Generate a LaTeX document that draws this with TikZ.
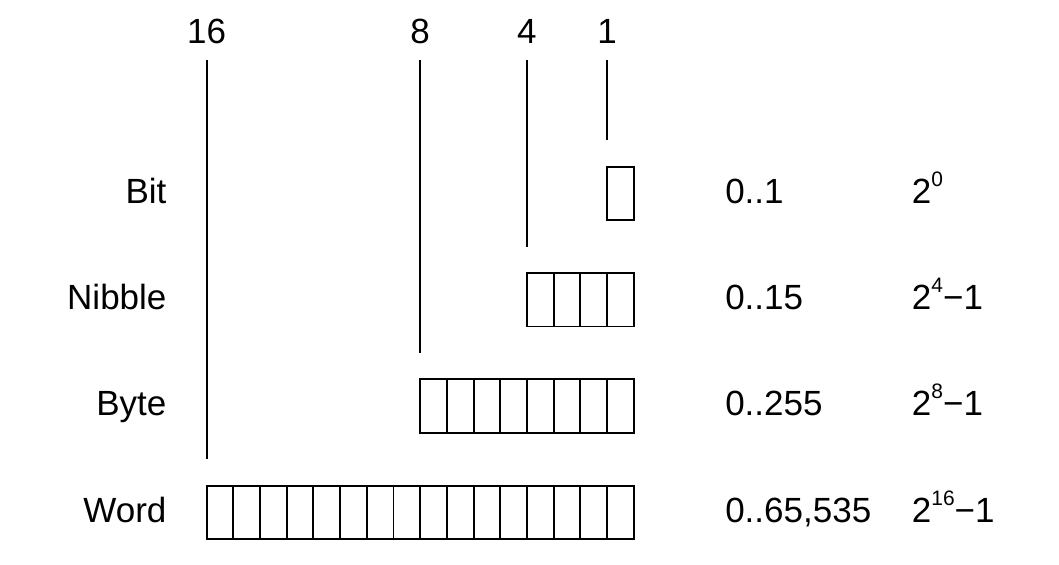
\documentclass[tikz,border=0pt]{standalone}
\usepackage{fontspec}
\setmainfont{Liberation Sans}
\usepackage{tikz}

\newcommand{\powtwo}[1]{2\raisebox{12.75pt}{\fontsize{15.7}{16}\selectfont #1}}

\tikzset{
  cell/.style={draw, line width=1.4pt, minimum width=20pt, minimum height=40.1pt, inner sep=0pt},
  txt/.style={font=\fontsize{26.25}{31}\selectfont, inner sep=0pt},
  tick/.style={line width=1.4pt}
}

\begin{document}
\begin{tikzpicture}[x=0.75pt,y=0.75pt,yscale=-1,xscale=1]
\path[use as bounding box] (0,0) rectangle (1059,564);

\foreach \n/\name/\range/\pow/\top/\bl in {1/Bit/{0..1}/{\powtwo{0}}/166.7/203,
    4/Nibble/{0..15}/{\powtwo{4}−1}/273/309.3,
    8/Byte/{0..255}/{\powtwo{8}−1}/379.3/415.7,
    16/Word/{0..65,535}/{\powtwo{16}−1}/485.7/522}{
  % Text Node
  \node[txt, anchor=base] (num\n) at ({633.7-\n*26.69},43) {\n};
  \coordinate (t\n) at ({633.7-\n*26.69},60);
  % Cells
  \foreach \k in {1,...,\n}
    \node[cell] (c\n-\k) at ({633.7-(\k-0.5)*26.69},{\top+26.75}) {};
  %Straight Lines
  \draw[tick] (t\n) -- ([yshift=-39.9pt]t\n |- c\n-\n.center);
  % Text Node
  \node[txt, anchor=base east] (lbl\n) at (166.7,\bl) {\name};
  \node[txt, anchor=base west] (rng\n) at (725,\bl) {\range};
  \node[txt, anchor=base west] (pow\n) at (911.7,\bl) {\pow};
}

\end{tikzpicture}
\end{document}
